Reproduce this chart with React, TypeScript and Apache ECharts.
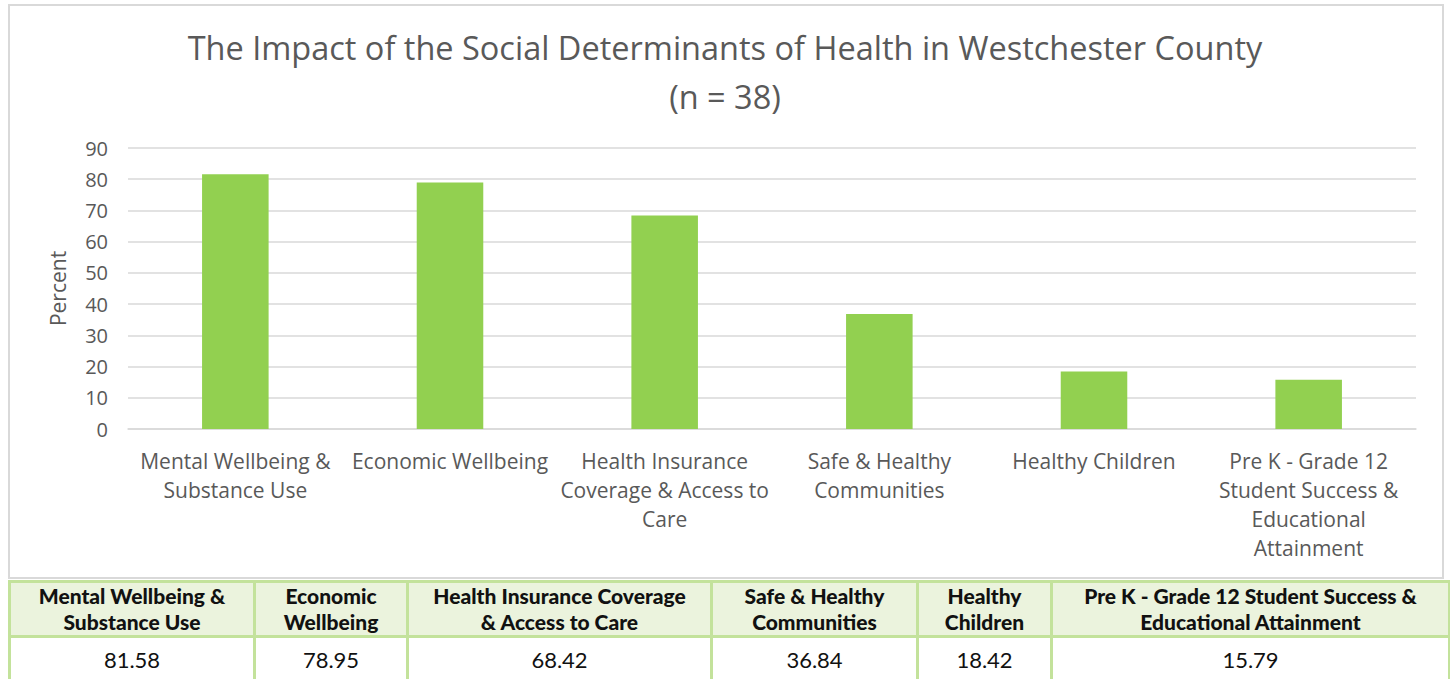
import React, { useEffect, useRef } from "react";
import * as echarts from "echarts";

const categories = [
  "Mental Wellbeing & Substance Use",
  "Economic Wellbeing",
  "Health Insurance Coverage & Access to Care",
  "Safe & Healthy Communities",
  "Healthy Children",
  "Pre K - Grade 12 Student Success & Educational Attainment",
];
const axisLabels = [
  "Mental Wellbeing &\nSubstance Use",
  "Economic Wellbeing",
  "Health Insurance\nCoverage & Access to\nCare",
  "Safe & Healthy\nCommunities",
  "Healthy Children",
  "Pre K - Grade 12\nStudent Success &\nEducational\nAttainment",
];
const tableHeaders = [
  ["Mental Wellbeing &", "Substance Use"],
  ["Economic", "Wellbeing"],
  ["Health Insurance Coverage", "& Access to Care"],
  ["Safe & Healthy", "Communities"],
  ["Healthy", "Children"],
  ["Pre K - Grade 12 Student Success &", "Educational Attainment"],
];
const values = [81.58, 78.95, 68.42, 36.84, 18.42, 15.79];
const colWidths = [245, 153, 304, 206, 134, 398];

export default function App() {
  const ref = useRef<HTMLDivElement>(null);
  useEffect(() => {
    document.body.style.margin = "0";
    const chart = echarts.init(ref.current!, null, { renderer: "svg" });
    const font = "'Open Sans', sans-serif";
    chart.setOption({
      animation: false,
      backgroundColor: "#ffffff",
      title: {
        text: "The Impact of the Social Determinants of Health in Westchester County\n(n = 38)",
        left: "center",
        top: 18,
        textStyle: {
          fontFamily: font,
          fontSize: 32.5,
          fontWeight: "normal",
          color: "#595959",
          lineHeight: 49,
        },
      },
      graphic: [
        {
          type: "rect",
          shape: { x: 9, y: 5, width: 1434, height: 573 },
          style: { fill: "none", stroke: "#d9d9d9", lineWidth: 2 },
          silent: true,
        },
      ],
      grid: { left: 128, right: 34, top: 148, bottom: 151 },
      xAxis: {
        type: "category",
        data: categories,
        axisLine: { show: true, lineStyle: { color: "#d9d9d9", width: 1.5 } },
        axisTick: { show: false },
        axisLabel: {
          interval: 0,
          margin: 17,
          fontFamily: font,
          fontSize: 21,
          color: "#595959",
          lineHeight: 29,
          formatter: (_v: string, i: number) => axisLabels[i],
        },
      },
      yAxis: {
        type: "value",
        min: 0,
        max: 90,
        interval: 10,
        name: "Percent",
        nameLocation: "middle",
        nameGap: 60,
        nameTextStyle: { fontFamily: font, fontSize: 21, color: "#595959" },
        axisLine: { show: false },
        axisTick: { show: false },
        axisLabel: { margin: 20, fontFamily: font, fontSize: 20, color: "#595959" },
        splitLine: { lineStyle: { color: "#d9d9d9", width: 1.5 } },
      },
      series: [
        {
          type: "bar",
          data: values,
          barWidth: "31%",
          itemStyle: { color: "#92d050" },
        },
      ],
    });
    return () => chart.dispose();
  }, []);

  const border = "3px solid #c3e29b";
  const tfont = "'Lato', 'DejaVu Sans', sans-serif";
  return (
    <div style={{ position: "fixed", left: 0, top: 0, width: 1450, height: 679, background: "#fff", overflow: "hidden" }}>
      <div ref={ref} style={{ position: "absolute", left: 0, top: 0, width: 1450, height: 580 }} />
      <table
        style={{
          position: "absolute",
          left: 8,
          top: 580,
          borderCollapse: "collapse",
          tableLayout: "fixed",
          width: 1440,
          fontFamily: tfont,
          color: "#111",
        }}
      >
        <colgroup>
          {colWidths.map((w, i) => (
            <col key={i} style={{ width: w }} />
          ))}
        </colgroup>
        <tbody>
          <tr style={{ height: 55 }}>
            {tableHeaders.map((h, i) => (
              <td
                key={i}
                style={{
                  border,
                  background: "#ebf3dd",
                  textAlign: "center",
                  fontWeight: 900,
                  fontSize: 21,
                  lineHeight: "26px",
                  padding: 0,
                }}
              >
                {h[0]}
                <br />
                {h[1]}
              </td>
            ))}
          </tr>
          <tr style={{ height: 46 }}>
            {values.map((v, i) => (
              <td
                key={i}
                style={{ border, textAlign: "center", fontSize: 22, padding: 0, verticalAlign: "middle" }}
              >
                {v.toFixed(2)}
              </td>
            ))}
          </tr>
        </tbody>
      </table>
    </div>
  );
}
